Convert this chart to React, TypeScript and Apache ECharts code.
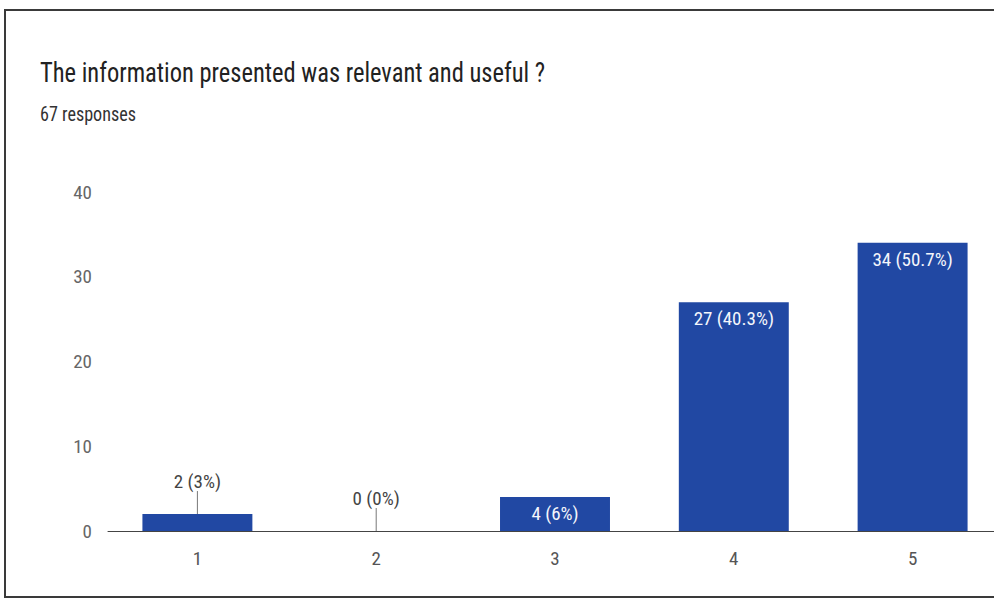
import React, { useEffect, useRef } from "react";
import * as echarts from "echarts";

const categories = ["1", "2", "3", "4", "5"];
const counts = [2, 0, 4, 27, 34];
const percents = ["3%", "0%", "6%", "40.3%", "50.7%"];
const yTicks = [0, 10, 20, 30, 40];

const FONT = "'Roboto Condensed', Roboto, sans-serif";

export default function App() {
  const ref = useRef<HTMLDivElement>(null);
  useEffect(() => {
    if (!ref.current) return;
    const chart = echarts.init(ref.current, undefined, { renderer: "svg" });
    const data = counts.map((v, i) => {
      const outside = v < 3;
      return {
        value: v,
        label: outside
          ? { show: true, position: "top", distance: 4, color: "#444", fontSize: 19, fontFamily: FONT }
          : { show: true, position: "insideTop", distance: 7, color: "#f4f6fb", fontSize: 19, fontFamily: FONT },
        labelLine: outside ? { show: true, lineStyle: { color: "#777", width: 1 } } : { show: false },
      };
    });
    chart.setOption({
      animation: false,
      backgroundColor: "#ffffff",
      graphic: [
        {
          type: "rect",
          shape: { x: 5, y: 10, width: 1010, height: 587 },
          style: { fill: "none", stroke: "#3a3a3a", lineWidth: 2 },
          silent: true,
        },
        {
          type: "text",
          x: 40,
          y: 58,
          scaleX: 0.875,
          style: {
            text: "The information presented was relevant and useful ?",
            font: `28px ${FONT}`,
            fill: "#222",
          },
        },
        {
          type: "text",
          x: 40,
          y: 105,
          scaleX: 0.93,
          style: {
            text: "67 responses",
            font: `19.5px ${FONT}`,
            fill: "#333",
          },
        },
      ],
      grid: { left: 108, top: 192, width: 894, height: 339, containLabel: false },
      xAxis: {
        type: "category",
        data: categories,
        axisLine: { show: true, lineStyle: { color: "#444", width: 1 } },
        axisTick: { show: false },
        axisLabel: { color: "#555", fontSize: 19, fontFamily: FONT, margin: 18 },
      },
      yAxis: {
        type: "value",
        min: yTicks[0],
        max: yTicks[yTicks.length - 1],
        interval: 10,
        splitLine: { show: false },
        axisLine: { show: false },
        axisTick: { show: false },
        axisLabel: { color: "#666", fontSize: 19, fontFamily: FONT, margin: 16 },
      },
      series: [
        {
          type: "bar",
          data,
          barCategoryGap: "38.5%",
          itemStyle: { color: "#2148a3" },
          labelLayout: (params: any) => {
            const i = params.dataIndex;
            if (counts[i] < 3) return { dy: -19 };
            return {};
          },
          label: {
            formatter: (p: any) => `${counts[p.dataIndex]} (${percents[p.dataIndex]})`,
          },
        },
      ],
    });
    return () => chart.dispose();
  }, []);
  return (
    <div style={{ position: "fixed", left: 0, top: 0, width: 994, height: 602, overflow: "hidden" }}>
      <div ref={ref} style={{ width: 1012, height: 602 }} />
    </div>
  );
}
